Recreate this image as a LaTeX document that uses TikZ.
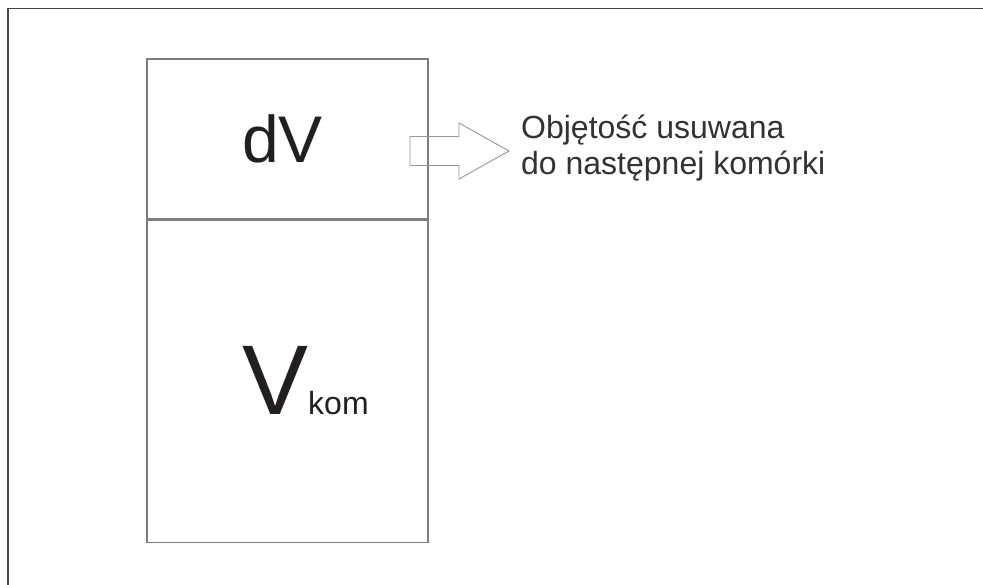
\documentclass[tikz,border=0pt]{standalone}
\usepackage{xcolor}
\usepackage{fontspec}
\usepackage{tikz}
\usetikzlibrary{positioning}
\setmainfont{Liberation Sans}
\definecolor{inkblack}{RGB}{35,31,32}
\definecolor{framegray}{RGB}{70,70,70}
\definecolor{cellgray}{RGB}{125,125,125}
\definecolor{arrowgray}{RGB}{150,150,150}

\begin{document}
\begin{tikzpicture}[x=1pt,y=-1pt,
  cell/.style={draw=cellgray, line width=1.3pt, inner sep=0pt, minimum width=281pt},
  bigtext/.style={text=inkblack, inner sep=0pt}]
\useasboundingbox (0,0) rectangle (983,585);
\draw[framegray, line width=1.8pt] (8,585) -- (8,8.5) -- (983,8.5);
\node[cell, minimum height=160pt] (dVcell) at (287.5,139) {};
\node[cell, minimum height=322pt, below=0pt of dVcell] (Vcell) {};
\node[bigtext, anchor=base, font=\fontsize{66}{66}\selectfont] (dV) at (282.5,163) {dV};
\node[bigtext, anchor=base west] (Vkom) at (242,414) {\fontsize{99}{99}\selectfont V\fontsize{32}{32}\selectfont kom};
\coordinate (tail) at (410,151);
\coordinate (tip) at (509,151);
\draw[arrowgray, line width=0.9pt] ([yshift=14.5pt]tail) -- ++(49,0) -- (459,123) -- (tip)
  -- (459,179) -- (459,165.5) -- ([yshift=-14.5pt]tail) -- cycle;
\node[text=inkblack!92, anchor=base west, align=left, inner sep=0pt,
  font=\fontsize{32}{36}\selectfont] (outflow) at (521,175) {Objętość usuwana\\do następnej komórki};
\end{tikzpicture}
\end{document}
